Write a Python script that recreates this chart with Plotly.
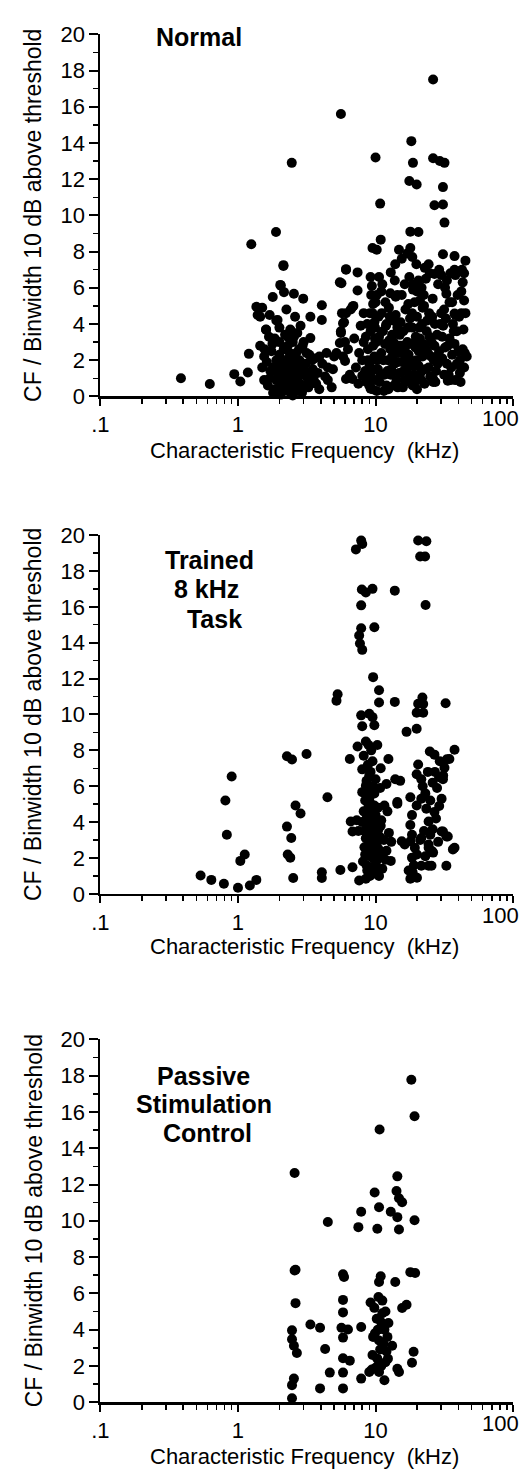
import plotly.graph_objects as go

W, H = 521, 1484

# ---------------- data ----------------
# Panel 1 : Normal
normal_cf = [
    26.2, 5.6, 18.2, 2.46, 10.0, 18.7, 26.2, 29.3, 31.7, 17.6, 19.9, 30.9, 10.8, 26.8, 30.9, 31.7,
    1.25, 1.89, 2.14, 2.03, 5.65, 6.1, 7.4, 7.4, 9.5, 10.9, 10.2, 14.8, 12.9, 17.9, 20.5, 17.9, 18.5,
    30.9, 37.5, 32.7, 24.3, 26.8, 37.5, 38.0, 29.0,
    13.9, 15.5, 17.0, 17.6, 18.8, 20.0, 21.0, 22.0,
    9.2, 9.4, 9.3, 9.6, 9.5, 9.8, 9.2, 9.9,
    5.7, 5.9, 5.6, 6.0, 6.3, 5.8, 6.6, 6.9,
    5.5, 6.1, 6.8, 6.1, 5.8, 5.6, 5.5, 5.2, 6.0, 6.8, 6.1, 8.0, 9.2, 10.0,
    1.45, 1.55, 1.5, 1.7, 1.65, 1.8, 1.75, 1.85, 1.9, 1.95, 2.0, 2.05, 2.1, 2.15, 2.2, 2.25,
    2.3, 2.35, 2.4, 2.45, 2.5, 2.55, 2.6, 2.65, 2.7, 2.75, 2.8, 2.9, 2.95, 3.0, 3.1, 3.2,
    3.3, 3.4, 3.5, 3.6, 3.7, 3.8, 3.9, 4.1, 4.3, 4.5,
    2.2, 2.4, 1.6, 1.7, 1.5, 1.9, 1.45, 2.0, 1.8, 2.5, 2.3,
    8.5, 8.8, 9.0, 9.2, 8.6, 9.5, 9.8, 10.1, 10.4, 10.7, 11.0, 11.3, 11.6, 12.0, 12.3, 12.6,
    13.0, 13.4, 13.8, 14.2, 14.6, 15.0, 15.5, 16.0, 16.5, 17.0, 17.5, 18.0, 18.5, 19.0, 19.5,
    20.0, 20.5, 21.0, 21.5, 22.0, 22.5, 23.0, 23.5, 24.0, 24.5, 25.0, 25.5, 26.0, 26.5, 27.0,
    27.5, 28.0, 28.5, 29.0,
    10.5, 11.8, 12.5, 14.0, 15.2, 16.3, 13.2, 10.2, 11.2, 10.6, 12.0, 14.8, 17.8, 19.2, 21.6,
    23.2, 20.8, 24.8, 22.4, 9.9, 11.5, 13.6, 15.8, 18.6, 20.0, 12.8, 16.6, 19.6, 14.4, 26.2, 27.8,
    30.0, 31.0, 32.0, 33.0, 34.0, 35.0, 36.0, 37.0, 38.0, 39.0, 40.0, 41.0, 42.0, 43.0, 44.0,
    45.0, 42.5, 44.0, 39.5, 31.5, 34.5, 36.5, 33.0, 35.0, 30.5, 38.0, 44.5, 40.5, 43.5, 36.0,
    2.55, 2.98, 3.36, 4.07, 4.07, 3.36, 2.55, 4.8, 1.36, 1.39, 1.56, 1.6, 1.94, 2.05, 2.16, 2.14,
    1.79, 0.385, 0.624, 0.94, 1.04, 1.2, 1.18,
    3.0, 4.4, 4.9, 4.5, 3.9, 5.0,
    7.0, 7.6, 7.2, 7.8, 8.2, 6.5, 7.5, 8.0, 14.4,
    39.6, 40.4, 37.5, 26.2, 33.5,
    1.85, 1.9, 1.95, 2.0, 2.05, 2.1, 2.12, 2.18, 2.22, 2.28, 2.32, 2.38, 2.42, 2.48, 2.52, 2.58,
    2.62, 2.68, 2.72, 2.78, 2.85, 2.88, 2.92, 3.05, 3.15, 3.25, 3.35, 3.45, 3.55, 1.55, 1.62, 1.72,
    1.78, 1.68, 2.0, 2.25, 2.3, 2.6, 2.7, 2.85,
    9.0, 9.3, 9.6, 9.9, 10.2, 10.3, 10.6, 10.9, 11.1, 11.4, 11.7, 11.9, 12.2, 12.4, 12.7, 12.9,
    13.2, 13.5, 13.7, 14.0, 14.3, 14.5, 14.9, 15.3, 15.6, 15.9, 16.2, 16.4, 16.8, 17.2, 17.4, 17.7,
    18.2, 18.4, 18.8, 19.3, 19.8, 20.2, 20.6, 21.2, 21.8, 22.2, 22.7, 23.3, 23.8, 24.3, 24.6, 25.3,
    25.8, 26.8, 27.2, 28.3, 29.5, 8.8, 8.4, 8.2, 8.7, 9.1, 10.0, 11.0, 12.8, 13.8, 15.5, 17.3,
    18.7, 20.5, 22.8, 19.8,
    30.5, 31.5, 32.5, 33.5, 34.5, 35.5, 37.5, 39.0, 41.0, 42.0, 43.0, 32.0, 30.0, 40.0, 45.0, 46.0,
    44.0, 41.5,
]
normal_ratio = [
    17.5, 15.6, 14.1, 12.9, 13.2, 12.9, 13.15, 13.0, 12.9, 11.9, 11.7, 11.56, 10.65, 10.56, 10.6, 9.6,
    8.4, 9.08, 7.25, 6.16, 6.25, 7.03, 6.85, 5.85, 8.2, 8.66, 8.1, 8.1, 6.85, 9.1, 9.08, 8.2, 7.7,
    7.85, 7.75, 5.67, 7.3, 6.76, 7.0, 6.7, 7.0,
    7.3, 7.6, 7.9, 6.6, 6.2, 5.8, 5.3, 4.9,
    6.6, 6.1, 5.6, 5.1, 4.6, 4.1, 3.6, 3.2,
    4.6, 4.1, 3.6, 3.0, 2.6, 2.2, 4.8, 5.0,
    6.3, 7.0, 4.95, 4.6, 4.04, 3.5, 2.95, 2.4, 1.96, 0.96, 0.96, 1.14, 0.42, 1.5,
    2.8, 2.2, 1.6, 1.0, 0.6, 1.6, 2.5, 3.2, 2.0, 1.2, 0.5, 0.1, 1.8, 2.6, 0.9, 1.4,
    0.3, 2.1, 0.7, 1.7, 3.0, 1.1, 0.4, 2.4, 1.5, 0.8, 2.0, 1.2, 2.8, 0.6, 1.8, 1.0,
    2.3, 0.9, 1.5, 2.1, 0.7, 1.3, 2.2, 1.8, 1.1, 1.6,
    3.4, 3.7, 3.7, 4.5, 4.9, 4.2, 4.4, 3.0, 0.2, 0.05, 2.8,
    3.3, 2.6, 1.8, 1.2, 0.8, 0.4, 2.2, 3.0, 1.5, 0.8, 2.4, 3.6, 1.2, 0.6, 2.0, 3.1,
    1.5, 4.2, 2.6, 0.9, 1.9, 3.4, 2.4, 1.4, 4.8, 3.0, 0.8, 2.0, 3.8, 1.2, 2.7,
    4.4, 1.7, 3.2, 0.9, 2.2, 5.0, 1.5, 3.6, 2.4, 4.6, 1.1, 3.0, 5.4, 2.0, 4.0,
    1.4, 3.4, 6.2, 2.5,
    4.4, 5.2, 4.9, 5.5, 4.1, 6.2, 3.4, 5.6, 6.2, 6.6, 4.0, 2.8, 4.3, 5.2, 6.0,
    6.5, 3.8, 6.8, 5.6, 0.9, 0.3, 0.6, 0.5, 0.6, 0.4, 2.6, 2.2, 3.3, 3.8, 0.8, 2.2,
    4.6, 3.9, 2.7, 1.8, 1.2, 0.9, 2.3, 3.6, 4.5, 1.8, 2.5, 1.3, 4.6, 2.6, 6.8,
    7.5, 7.0, 5.3, 5.6, 4.8, 3.2, 4.0, 6.4, 6.8, 2.1, 0.9, 2.4, 4.4, 3.7, 5.2,
    5.67, 5.4, 4.4, 5.04, 4.22, 3.22, 3.3, 0.5, 4.95, 4.5, 2.6, 3.68, 4.22, 6.12, 5.76, 7.2,
    5.49, 1.0, 0.69, 1.23, 0.82, 2.35, 1.32,
    3.0, 2.4, 1.5, 0.9, 0.4, 2.2,
    3.2, 2.4, 1.6, 3.9, 4.6, 1.2, 0.7, 2.0, 5.6,
    1.78, 2.5, 4.58, 0.96, 0.87,
    0.4, 0.9, 1.6, 2.3, 1.0, 0.4, 1.3, 2.0, 0.6, 1.1, 1.7, 2.4, 0.2, 1.3, 2.0, 0.7,
    1.6, 0.3, 1.1, 2.6, 0.6, 1.6, 0.2, 1.4, 2.4, 0.5, 1.3, 2.0, 0.9, 0.9, 1.9, 1.4,
    2.9, 3.3, 3.8, 4.8, 3.3, 4.4, 3.5, 3.9,
    0.6, 1.5, 2.8, 3.8, 0.3, 2.0, 3.3, 1.2, 4.6, 2.0, 2.9, 3.9, 1.4, 0.4, 4.4, 1.2,
    2.2, 3.0, 1.8, 4.5, 2.4, 0.5, 1.3, 2.8, 1.9, 3.6, 0.9, 2.7, 1.6, 3.8, 2.3, 1.2,
    2.9, 4.6, 1.7, 0.8, 2.0, 3.0, 2.5, 1.3, 4.0, 2.9, 0.7, 2.6, 4.2, 1.6, 3.3, 2.2,
    4.4, 2.8, 0.8, 1.8, 4.0, 2.0, 1.4, 3.0, 4.0, 4.6, 5.2, 5.8, 5.7, 6.4, 5.6, 5.1,
    5.9, 6.4, 7.1, 7.3,
    3.3, 1.2, 4.3, 2.8, 5.2, 1.6, 2.9, 3.6, 2.0, 5.8, 6.3, 6.0, 6.7, 6.9, 4.6, 2.2,
    1.6, 0.8,
]

# Panel 2 : Trained 8 kHz task
trained_cf = [
    7.86, 7.2, 8.0, 20.4, 23.4, 22.9, 21.1, 7.95, 9.5, 8.5, 13.8, 7.86, 23.1, 7.86, 9.8, 7.6,
    7.7, 8.0, 9.6, 5.3, 5.2, 10.6, 10.6, 13.8, 21.9, 22.2, 32.3,
    7.86, 9.0, 9.5, 8.0, 9.8, 20.4, 22.2, 19.9, 16.8, 19.9, 37.5, 34.4, 24.8, 26.8, 29.3, 20.4,
    19.9, 21.5, 31.7, 30.9, 30.2, 17.9, 19.9, 21.5, 23.4, 26.8, 24.3, 18.4, 17.9, 18.4, 30.9,
    33.5, 15.5, 21.1, 24.3, 37.5, 12.4, 10.3, 8.5, 7.4, 6.5, 9.5, 8.0, 9.0, 10.0, 8.5, 8.0, 9.0,
    12.0, 13.9, 15.1, 14.4, 9.8, 11.6, 4.47, 2.27, 2.47, 3.15, 2.62, 2.85, 2.27, 2.44, 0.9, 0.81,
    0.83, 6.6, 6.8,
    0.535, 0.64, 0.79, 1.0, 1.22, 1.36, 1.04, 1.12, 2.3, 2.4, 2.52, 4.07, 4.07, 5.55, 6.8, 7.6,
    8.5, 9.5, 12.9, 14.4, 17.4, 17.9, 18.4, 16.3, 17.9, 19.3, 21.5, 24.3, 25.7, 21.5, 24.3, 25.5,
    32.7, 36.5, 30.2, 32.7, 26.2,
    8.2, 8.6, 9.0, 9.4, 8.8, 9.2, 8.4, 9.6, 10.0, 8.7, 9.1, 10.2, 10.5, 9.8, 10.8, 11.2, 11.5,
    10.4, 9.3, 8.9, 9.6, 10.1, 11.0, 12.0, 12.5, 11.8, 8.3, 9.9, 10.6, 13.0, 12.2, 8.0, 7.5, 7.3,
    9.0, 8.6, 9.8, 10.8, 8.2, 9.3, 8.8, 10.9,
    22.0, 23.0, 25.0, 26.0, 27.0, 28.0, 29.0, 27.5, 22.5, 20.0, 23.0, 28.5, 26.0, 18.6, 20.0,
    19.0, 29.0, 31.0, 33.0, 24.0, 25.0,
    8.1, 8.3, 8.5, 8.7, 8.9, 9.1, 9.3, 9.5, 9.7, 9.9, 10.1, 10.3, 10.5, 10.7, 10.9, 9.0,
    9.2, 9.4, 8.6, 10.0, 8.8, 9.6, 9.2, 8.4, 8.9,
]
trained_ratio = [
    19.7, 19.2, 19.5, 19.7, 19.65, 18.8, 18.8, 16.96, 17.0, 16.8, 16.9, 16.08, 16.1, 14.8, 14.86, 14.4,
    13.95, 13.6, 12.08, 11.13, 10.77, 11.35, 10.67, 10.7, 10.95, 10.58, 10.62,
    9.95, 10.04, 9.85, 9.34, 9.4, 10.6, 10.1, 10.1, 9.03, 9.2, 8.03, 7.52, 7.94, 7.76, 7.39, 7.21,
    6.67, 6.39, 7.03, 6.39, 5.3, 5.39, 4.93, 5.3, 4.75, 4.57, 4.03, 4.39, 3.84, 3.3, 3.48,
    3.2, 2.93, 3.0, 2.75, 2.57, 7.52, 8.3, 8.49, 8.21, 7.52, 7.39, 6.94, 6.58, 6.39, 6.03, 5.67, 5.3,
    6.12, 6.39, 6.3, 5.03, 4.93, 4.93, 5.39, 7.67, 7.49, 7.8, 4.93, 4.48, 3.75, 3.11, 6.54, 5.2,
    3.3, 4.03, 3.48,
    1.02, 0.78, 0.56, 0.34, 0.47, 0.78, 1.84, 2.2, 2.2, 2.02, 0.89, 1.2, 0.89, 1.33, 1.48, 0.75,
    0.84, 1.11, 1.84, 5.12, 1.3, 0.84, 2.02, 2.75, 2.93, 2.57, 3.11, 2.57, 2.39, 1.57, 1.57, 1.57,
    1.57, 2.48, 3.48, 3.2, 2.3,
    4.6, 4.2, 3.8, 3.4, 3.0, 2.6, 2.2, 2.0, 1.6, 1.3, 1.0, 2.8, 3.6, 4.4, 2.2, 1.4, 3.0,
    4.8, 5.0, 4.9, 3.1, 3.9, 4.1, 2.4, 3.4, 1.9, 3.5, 1.2, 1.0, 2.9, 4.6, 4.0, 3.5, 4.1,
    5.8, 6.3, 5.6, 5.9, 7.7, 8.0, 7.2, 7.0,
    6.0, 5.6, 5.2, 6.2, 6.8, 5.9, 4.9, 4.2, 3.5, 2.2, 2.1, 2.9, 3.6, 1.2, 0.9,
    1.6, 6.5, 6.6, 7.5, 6.8, 3.3,
    1.8, 2.6, 3.1, 3.7, 4.3, 2.1, 1.5, 2.4, 3.5, 2.9, 2.2, 1.9, 2.5, 3.2, 3.8, 2.9,
    4.1, 4.7, 1.6, 4.4, 5.4, 6.0, 6.8, 5.2, 8.3,
]

# Panel 3 : Passive stimulation control
passive_cf = [
    18.2, 19.2, 10.7, 2.58, 14.4, 9.85, 14.2, 14.8, 15.6, 10.6, 7.86, 12.9, 4.5, 14.4, 7.5, 10.3,
    14.8, 19.2, 2.58, 2.62, 5.8, 5.9, 10.9, 10.6, 13.9, 17.9, 19.4, 2.62, 5.8, 5.8, 16.8, 15.6,
    2.47, 2.47, 2.55, 2.68, 3.36, 3.95, 4.3, 5.65, 6.3, 5.8, 7.86, 5.8, 6.5, 4.65, 5.8, 3.95,
    5.8, 2.55, 2.47, 2.47, 7.86, 9.0, 10.6, 11.6, 14.4, 14.8, 18.9, 18.4, 13.2, 12.4,
    9.2, 9.8, 10.5, 11.2, 11.8, 10.2, 11.0, 11.6, 9.9, 10.6, 11.4, 12.0, 9.5, 10.3, 11.0, 11.8,
    10.0, 9.6, 12.2, 10.8, 9.4, 11.2, 10.4, 12.3,
]
passive_ratio = [
    17.78, 15.76, 15.03, 12.63, 12.45, 11.56, 11.64, 11.24, 11.02, 10.75, 10.5, 10.5, 9.93, 10.2, 9.65, 9.56,
    9.52, 10.03, 7.26, 7.3, 7.05, 6.9, 6.94, 6.63, 6.63, 7.17, 7.12, 5.46, 5.64, 4.95, 5.37, 5.19,
    3.96, 3.47, 3.11, 2.71, 4.28, 4.1, 2.93, 4.1, 4.01, 3.56, 4.14, 2.42, 2.29, 1.63, 1.63, 0.76,
    0.76, 1.3, 0.94, 0.22, 1.3, 1.66, 1.66, 1.21, 1.84, 1.66, 2.78, 2.17, 3.11, 4.37,
    5.5, 5.2, 5.8, 5.6, 5.0, 4.6, 4.4, 4.0, 3.8, 3.4, 3.2, 2.8, 2.6, 2.4, 2.0, 2.2,
    1.9, 3.6, 3.6, 2.9, 1.8, 4.9, 4.0, 2.4,
]

x_tick_vals = [0.1, 1, 10, 100]
x_tick_text = [".1", "1", "10", ""]
x_last_label = "100"
x_minor_vals = [0.2, 0.3, 0.4, 0.5, 0.6, 0.7, 0.8, 0.9, 2, 3, 4, 5, 6, 7, 8, 9,
                20, 30, 40, 50, 60, 70, 80, 90]
y_tick_vals = [0, 2, 4, 6, 8, 10, 12, 14, 16, 18, 20]

panel_labels = [["Normal"], ["Trained", "8 kHz", " Task"], ["Passive", "Stimulation", "Control"]]
x_title = "Characteristic Frequency  (kHz)"
y_title = "CF / Binwidth 10 dB above threshold"

# ---------------- layout geometry (pixels) ----------------
FONT = "Liberation Sans, Arial, Helvetica, sans-serif"
x_left, x_right = 93, 513
panels_px = [(22.7, 391), (532, 897), (1045, 1414)]  # (top, bottom) pixel rows
xtitle_px = [446, 951, 1469]
label_pos = [
    [(193, 25)],
    [(204, 557), (201, 587), (206, 617)],
    [(198, 1082), (198, 1111), (202, 1140)],
]


def py2paper(py):
    return 1 - py / H


fig = go.Figure()
datasets = [(normal_cf, normal_ratio), (trained_cf, trained_ratio), (passive_cf, passive_ratio)]
for i, (xs, ys) in enumerate(datasets):
    suffix = "" if i == 0 else str(i + 1)
    fig.add_trace(go.Scatter(
        x=xs, y=ys, mode="markers",
        marker=dict(size=10, color="black", line=dict(width=0)),
        xaxis="x" + suffix, yaxis="y" + suffix, cliponaxis=False, showlegend=False,
        hoverinfo="skip",
    ))

layout = dict(
    width=W, height=H, margin=dict(l=0, r=0, t=0, b=0),
    paper_bgcolor="white", plot_bgcolor="white", showlegend=False,
    font=dict(family=FONT, color="black"),
)
annotations = []
for i, (top, bot) in enumerate(panels_px):
    suffix = "" if i == 0 else str(i + 1)
    layout["xaxis" + suffix] = dict(
        type="log", range=[-1, 2], domain=[x_left / W, x_right / W],
        anchor="y" + suffix, showline=True, linecolor="black", linewidth=2.5,
        ticks="outside", ticklen=7, tickwidth=2, tickcolor="black",
        tickmode="array", tickvals=x_tick_vals, ticktext=x_tick_text,
        tickfont=dict(size=22, family=FONT, color="black"),
        showgrid=False, zeroline=False,
        minor=dict(ticks="outside", ticklen=5, tickwidth=1.5, tickcolor="black",
                   tickmode="array", tickvals=x_minor_vals, showgrid=False),
    )
    layout["yaxis" + suffix] = dict(
        range=[0, 20], domain=[py2paper(bot), py2paper(top)],
        anchor="x" + suffix, showline=True, linecolor="black", linewidth=2,
        ticks="outside", ticklen=9, tickwidth=2, tickcolor="black",
        tickmode="array", tickvals=y_tick_vals,
        tickfont=dict(size=22, family=FONT, color="black"),
        showgrid=False, zeroline=False,
        minor=dict(ticks="outside", ticklen=5, tickwidth=1.5, tickcolor="black",
                   dtick=1, showgrid=False),
    )
    annotations.append(dict(
        text=y_title, textangle=-90, x=25 / W, y=py2paper((top + bot) / 2),
        xref="paper", yref="paper", showarrow=False, xanchor="center", yanchor="middle",
        font=dict(size=23, family=FONT, color="black"),
    ))
    annotations.append(dict(
        text=x_title, x=301 / W, y=py2paper(xtitle_px[i]),
        xref="paper", yref="paper", showarrow=False, xanchor="center", yanchor="middle",
        font=dict(size=22, family=FONT, color="black"),
    ))
    annotations.append(dict(
        text=x_last_label, x=500 / W, y=py2paper(bot + 22),
        xref="paper", yref="paper", showarrow=False, xanchor="center", yanchor="middle",
        font=dict(size=22, family=FONT, color="black"),
    ))
    for line, (lx, ly) in zip(panel_labels[i], label_pos[i]):
        annotations.append(dict(
            text="<b>" + line + "</b>", x=lx / W, y=py2paper(ly),
            xref="paper", yref="paper", showarrow=False, xanchor="center", yanchor="middle",
            font=dict(size=25, family=FONT, color="black"),
        ))
layout["annotations"] = annotations
fig.update_layout(**layout)

fig.write_html(
    "out.html",
    config={"displayModeBar": False, "staticPlot": True},
    post_script="document.body.style.margin='0';document.body.style.overflow='hidden';"
                "document.documentElement.style.overflow='hidden';",
)
